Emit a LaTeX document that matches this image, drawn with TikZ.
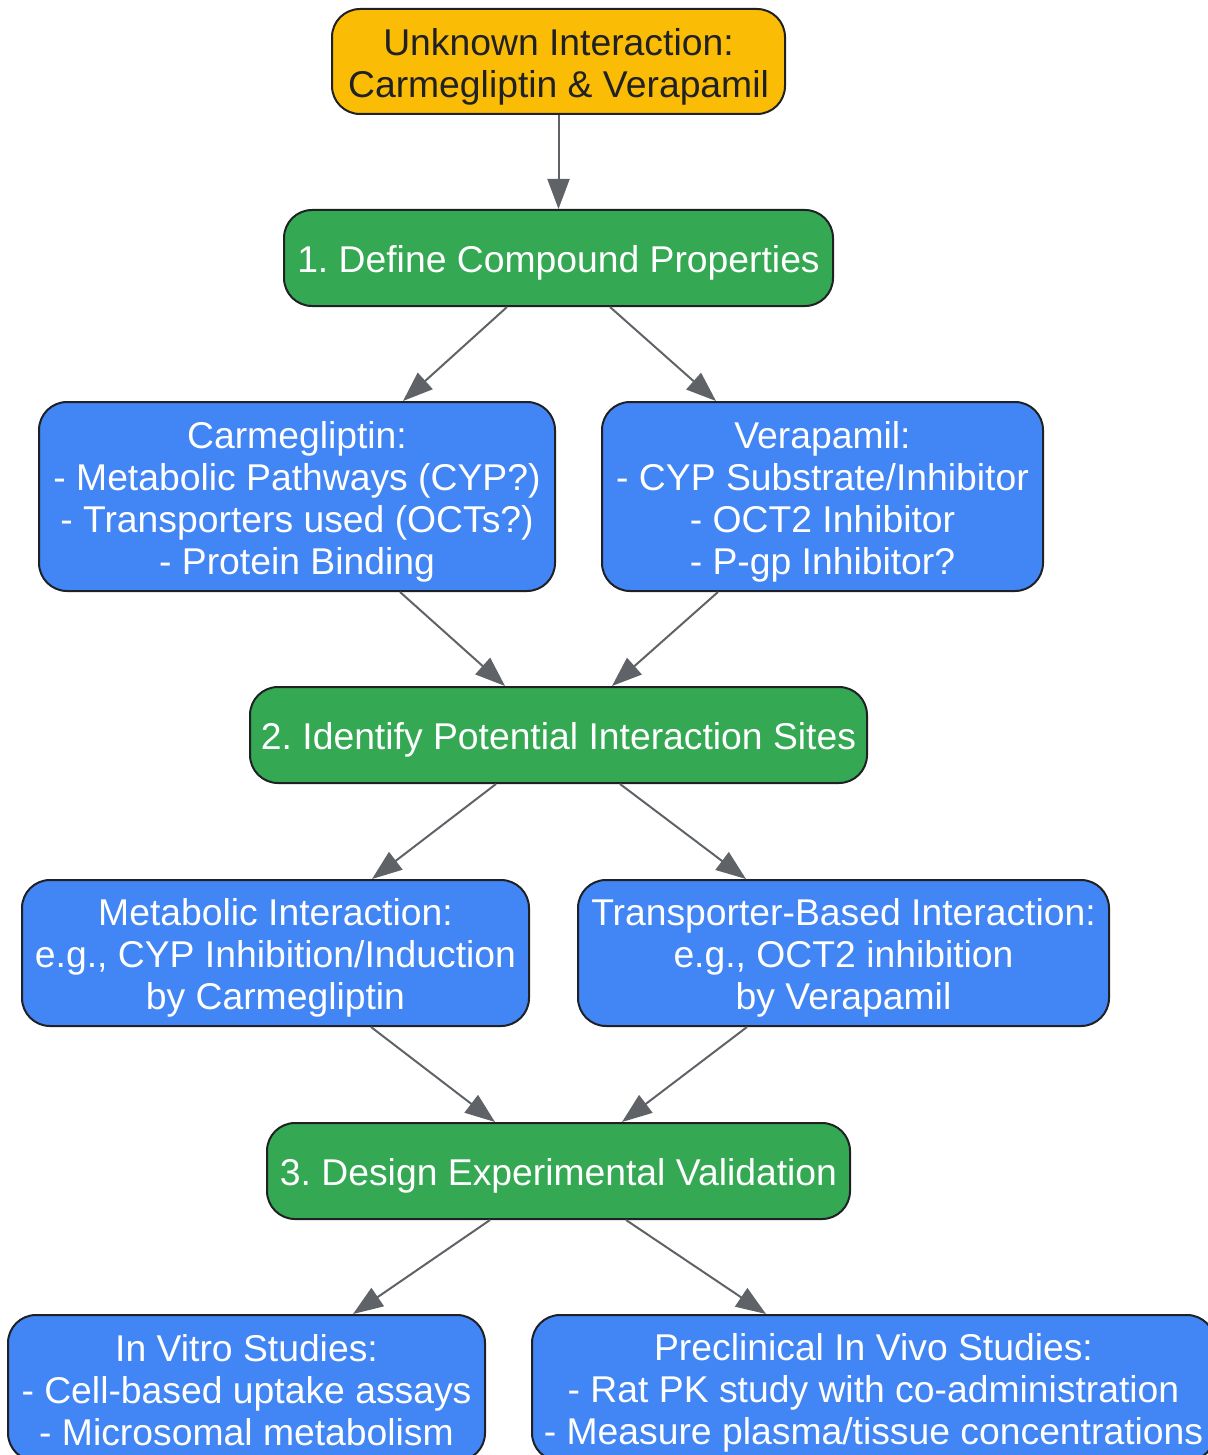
\documentclass[tikz,border=0pt]{standalone}
\usepackage{fontspec}
\setmainfont{Liberation Sans}
\usetikzlibrary{arrows.meta}
\definecolor{gyellow}{HTML}{FBBC05}
\definecolor{ggreen}{HTML}{34A853}
\definecolor{gblue}{HTML}{4285F4}
\definecolor{gborder}{HTML}{202124}
\definecolor{garrow}{HTML}{5F6368}
\newcommand\hsa{\rule{0pt}{36.8pt}}
\newcommand\hsb{\rule[-5.2pt]{0pt}{5.2pt}}
\frenchspacing
\tikzset{
  box/.style={draw=gborder, line width=2pt, rounded corners=28pt, align=center,
    inner sep=0pt, font=\fontsize{37.3}{42}\selectfont\frenchspacing},
  startbox/.style={box, fill=gyellow, text=gborder},
  stepbox/.style={box, fill=ggreen, text=white},
  infobox/.style={box, fill=gblue, text=white},
  conn/.style={draw=garrow, line width=2pt, -{Triangle[length=30pt,width=22pt]}}
}
\begin{document}
\begin{tikzpicture}[x=1pt,y=-1pt]
\useasboundingbox (0,0) rectangle (1207,1455);
\node[startbox, minimum width=453pt, minimum height=105pt] (top) at (558.5,61.5)
  {\hsa Unknown Interaction:\\Carmegliptin \& Verapamil\hsb};
\node[stepbox, minimum width=549pt, minimum height=96pt] (define) at (558.5,258)
  {\hsa 1. Define Compound Properties\hsb};
\node[infobox, minimum width=516pt, minimum height=189pt] (carm) at (297,496.5)
  {\hsa Carmegliptin:\\- Metabolic Pathways (CYP?)\\- Transporters used (OCTs?)\\- Protein Binding\hsb};
\node[infobox, minimum width=441pt, minimum height=189pt] (vera) at (822.5,496.5)
  {\hsa Verapamil:\\- CYP Substrate/Inhibitor\\- OCT2 Inhibitor\\- P-gp Inhibitor?\hsb};
\node[stepbox, minimum width=617pt, minimum height=96pt] (identify) at (558.5,735)
  {\hsa 2. Identify Potential Interaction Sites\hsb};
\node[infobox, minimum width=507pt, minimum height=146pt] (metab) at (275.5,953)
  {\hsa Metabolic Interaction:\\e.g., CYP Inhibition/Induction\\by Carmegliptin\hsb};
\node[infobox, minimum width=531pt, minimum height=146pt] (trans) at (843.5,953)
  {\hsa Transporter-Based Interaction:\\e.g., OCT2 inhibition\\by Verapamil\hsb};
\node[stepbox, minimum width=583pt, minimum height=96pt] (design) at (558.5,1171)
  {\hsa 3. Design Experimental Validation\hsb};
\node[infobox, minimum width=477pt, minimum height=146pt] (invitro) at (246.5,1388)
  {\hsa In Vitro Studies:\\- Cell-based uptake assays\\- Microsomal metabolism\hsb};
\node[infobox, minimum width=683pt, minimum height=146pt] (preclin) at (873.5,1388)
  {\hsa Preclinical In Vivo Studies:\\- Rat PK study with co-administration\\- Measure plasma/tissue concentrations\hsb};

\draw[conn] (top.south) -- (define.north);
\draw[conn] ([xshift=-51.5pt]define.south) -- ([xshift=106pt]carm.north);
\draw[conn] ([xshift=51.5pt]define.south) -- ([xshift=-106.5pt]vera.north);
\draw[conn] ([xshift=103pt]carm.south) -- ([xshift=-53.5pt]identify.north);
\draw[conn] ([xshift=-104.5pt]vera.south) -- ([xshift=53.5pt]identify.north);
\draw[conn] ([xshift=-62.5pt]identify.south) -- ([xshift=96.5pt]metab.north);
\draw[conn] ([xshift=61.5pt]identify.south) -- ([xshift=-97.5pt]trans.north);
\draw[conn] ([xshift=95.5pt]metab.south) -- ([xshift=-63.5pt]design.north);
\draw[conn] ([xshift=-96.5pt]trans.south) -- ([xshift=63.5pt]design.north);
\draw[conn] ([xshift=-68.5pt]design.south) -- ([xshift=106.5pt]invitro.north);
\draw[conn] ([xshift=67.5pt]design.south) -- ([xshift=-107.5pt]preclin.north);
\end{tikzpicture}
\end{document}
